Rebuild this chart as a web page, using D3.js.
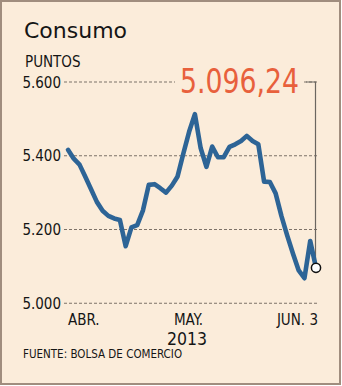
<!DOCTYPE html>
<html>
<head>
<meta charset="utf-8">
<script src="https://cdn.jsdelivr.net/npm/d3@7/dist/d3.min.js"></script>
<style>
  html, body { margin: 0; padding: 0; background: #ffffff; }
  svg { display: block; }
  text { font-family: "DejaVu Sans Condensed", "DejaVu Sans", sans-serif; font-stretch: condensed; fill: #151515; }
  text.title { font-family: "DejaVu Sans", sans-serif; font-stretch: normal; }
</style>
</head>
<body>
<svg id="chart" width="342" height="386"></svg>
<script>
// Index "Consumo", daily close, trading days 1 Apr – 3 Jun 2013
const dates = [
  "2013-04-01","2013-04-02","2013-04-03","2013-04-04","2013-04-05",
  "2013-04-08","2013-04-09","2013-04-10","2013-04-11","2013-04-12",
  "2013-04-15","2013-04-16","2013-04-17","2013-04-18","2013-04-19",
  "2013-04-22","2013-04-23","2013-04-24","2013-04-25","2013-04-26",
  "2013-04-29","2013-04-30",
  "2013-05-02","2013-05-03",
  "2013-05-06","2013-05-07","2013-05-08","2013-05-09","2013-05-10",
  "2013-05-13","2013-05-14","2013-05-15","2013-05-16","2013-05-17",
  "2013-05-20","2013-05-22","2013-05-23","2013-05-24",
  "2013-05-27","2013-05-28","2013-05-29","2013-05-30","2013-05-31",
  "2013-06-03"
];
const values = [
  5416, 5392, 5376, 5343, 5309,
  5275, 5251, 5237, 5230, 5226,
  5155, 5206, 5212, 5252, 5321,
  5323, 5312, 5300, 5319, 5344,
  5406, 5465,
  5513, 5421,
  5370, 5425, 5396, 5396, 5424,
  5431, 5440, 5454, 5440, 5431,
  5330, 5329, 5298, 5237,
  5184, 5135, 5089, 5068, 5169,
  5096.24
];
const yTicks = [5000, 5200, 5400, 5600];
const yTickLabels = ["5.000", "5.200", "5.400", "5.600"];
const xLabels = ["ABR.", "MAY.", "JUN. 3"];
const xLabelIdx = [0, 22, 43];
const xLabelAnchor = ["start", "middle", "end"];
const lastLabel = "5.096,24";
const title = "Consumo";
const unit = "PUNTOS";
const year = "2013";
const source = "FUENTE: BOLSA DE COMERCIO";

const svg = d3.select("#chart");
const bg = "#fbecda";

// frame
svg.append("rect")
  .attr("x", 1).attr("y", 1).attr("width", 339).attr("height", 383)
  .attr("fill", bg).attr("stroke", "#a08d7e").attr("stroke-width", 2);

const x = d3.scaleLinear().domain([0, values.length - 1]).range([68, 316]);
const y = d3.scaleLinear().domain([5000, 5600]).range([303.3, 82]);

// grid lines
const gridG = svg.append("g");
gridG.selectAll("line").data(yTicks).join("line")
  .attr("x1", 64).attr("x2", 318)
  .attr("y1", d => y(d)).attr("y2", d => y(d))
  .attr("stroke", "#7d7268").attr("stroke-width", 1.1)
  .attr("stroke-dasharray", "3,2");

// tick labels
svg.append("g").selectAll("text").data(yTicks).join("text")
  .attr("x", 61).attr("y", d => y(d) + 5.5)
  .attr("text-anchor", "end")
  .attr("font-size", 15)
  .text((d, i) => yTickLabels[i]);

// title & unit
svg.append("text").attr("class", "title").attr("x", 24).attr("y", 38)
  .attr("font-size", 22).text(title);
svg.append("text").attr("x", 25).attr("y", 67)
  .attr("font-size", 15).text(unit);

// last value callout
const lastI = values.length - 1;
svg.append("rect")
  .attr("x", 175).attr("y", 70).attr("width", 128).attr("height", 26)
  .attr("fill", bg);
svg.append("path")
  .attr("d", `M306,${y(5600)}H${x(lastI) - 0.5}V${y(values[lastI]) - 4}`)
  .attr("fill", "none").attr("stroke", "#6b6660").attr("stroke-width", 1.2);
svg.append("text")
  .attr("x", 180).attr("y", 93)
  .attr("font-size", 33)
  .attr("textLength", 119).attr("lengthAdjust", "spacingAndGlyphs")
  .style("fill", "#e8603c")
  .text(lastLabel);

// series line
const line = d3.line().x((d, i) => x(i)).y(d => y(d)).curve(d3.curveLinear);
svg.append("path").datum(values)
  .attr("d", line)
  .attr("fill", "none").attr("stroke", "#2d6496")
  .attr("stroke-width", 4.6).attr("stroke-linejoin", "round").attr("stroke-linecap", "round");

svg.append("circle")
  .attr("cx", x(lastI)).attr("cy", y(values[lastI])).attr("r", 4.6)
  .attr("fill", "#ffffff").attr("stroke", "#111").attr("stroke-width", 1.5);

// x labels
svg.append("g").selectAll("text").data(xLabels).join("text")
  .attr("x", (d, i) => i === 1 ? 188.5 : (i === 2 ? 318 : x(xLabelIdx[i])))
  .attr("y", 324.5)
  .attr("text-anchor", (d, i) => xLabelAnchor[i])
  .attr("font-size", 15)
  .text(d => d);

svg.append("text").attr("x", 187).attr("y", 345)
  .attr("text-anchor", "middle").attr("font-size", 17.5).text(year);

svg.append("text").attr("x", 23).attr("y", 357.5)
  .attr("font-size", 11.5).text(source);
</script>
</body>
</html>
